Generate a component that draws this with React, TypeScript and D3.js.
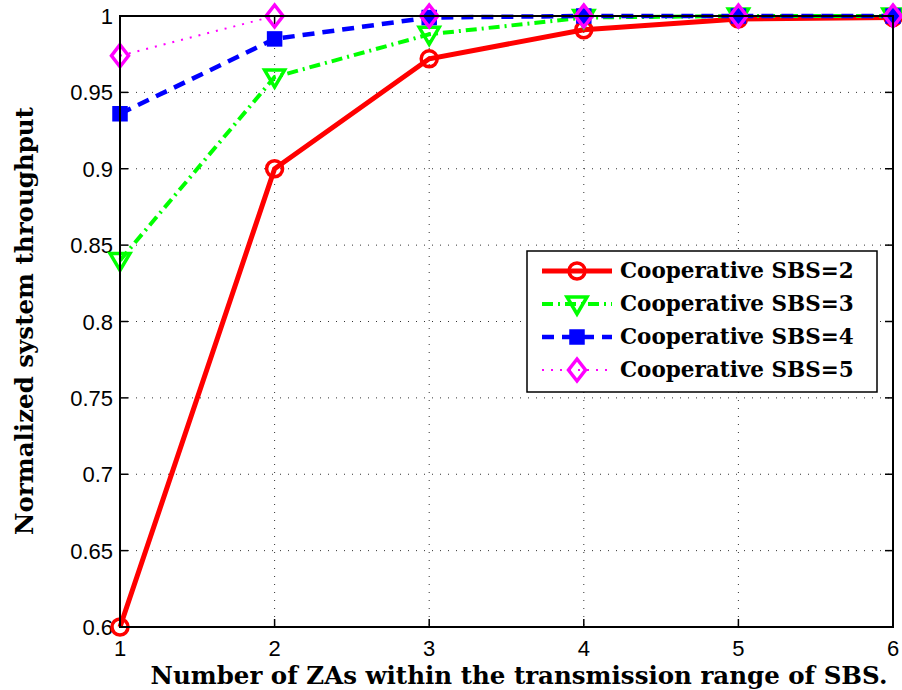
import React from "react";
import * as d3 from "d3";

const xValues = [1, 2, 3, 4, 5, 6];
const sbs2 = [0.6, 0.9, 0.972, 0.991, 0.998, 0.999];
const sbs3 = [0.84, 0.96, 0.988, 0.999, 1.0, 1.0];
const sbs4 = [0.936, 0.985, 0.999, 1.0, 1.0, 1.0];
const sbs5 = [0.974, 1.0, 1.0, 1.0, 1.0, 1.0];
const seriesNames = ["Cooperative SBS=2", "Cooperative SBS=3", "Cooperative SBS=4", "Cooperative SBS=5"];
const xTicks = [1, 2, 3, 4, 5, 6];
const yTicks = [0.6, 0.65, 0.7, 0.75, 0.8, 0.85, 0.9, 0.95, 1];
const xLabel = "Number of ZAs within the transmission range of SBS.";
const yLabel = "Normalized system throughput";

const W = 902, H = 690;
const L = 120, R = 893, T = 16, B = 627;

type Style = { color: string; dash: string; width: number; marker: string };
const styles: Style[] = [
  { color: "#ff0000", dash: "", width: 5, marker: "circle" },
  { color: "#00ff00", dash: "11 5 2 5", width: 4, marker: "triangle" },
  { color: "#0000ff", dash: "12 8", width: 4.5, marker: "square" },
  { color: "#ff00ff", dash: "2 7", width: 2, marker: "diamond" },
];

function Marker({ kind, x, y, color }: { kind: string; x: number; y: number; color: string }) {
  const sw = 3.5;
  if (kind === "circle") return <circle cx={x} cy={y} r={8} fill="none" stroke={color} strokeWidth={sw} />;
  if (kind === "triangle")
    return <path d={`M${x - 10},${y - 7} L${x + 10},${y - 7} L${x},${y + 10} Z`} fill="none" stroke={color} strokeWidth={sw} strokeLinejoin="miter" />;
  if (kind === "square") return <rect x={x - 6} y={y - 6} width={12} height={12} fill={color} stroke={color} strokeWidth={sw} />;
  return <path d={`M${x},${y - 11} L${x + 8.5},${y} L${x},${y + 11} L${x - 8.5},${y} Z`} fill="none" stroke={color} strokeWidth={sw} />;
}

export default function App() {
  const x = d3.scaleLinear().domain([1, 6]).range([L, R]);
  const y = d3.scaleLinear().domain([0.6, 1]).range([B, T]);
  const data = [sbs2, sbs3, sbs4, sbs5];
  const line = d3.line<number>().x((_, i) => x(xValues[i])).y((d) => y(d));
  const tickFont = "'Liberation Sans', Arial, sans-serif";
  const labelFont = "'DejaVu Serif', 'Liberation Serif', serif";
  const legX = 527, legY = 251, legW = 350, legH = 141;
  const legRows = [271, 304, 337, 370];
  return (
    <svg width={W} height={H} style={{ display: "block", position: "absolute", left: 0, top: 0, background: "#fff" }}>
      <rect width={W} height={H} fill="#fff" />
      {/* grid */}
      {xTicks.slice(1, -1).map((t) => (
        <line key={"gx" + t} x1={x(t)} x2={x(t)} y1={T} y2={B} stroke="#333" strokeWidth={1} strokeDasharray="1 7" />
      ))}
      {yTicks.slice(1, -1).map((t) => (
        <line key={"gy" + t} x1={L} x2={R} y1={y(t)} y2={y(t)} stroke="#333" strokeWidth={1} strokeDasharray="1 7" />
      ))}
      {/* ticks */}
      {xTicks.map((t) => (
        <g key={"tx" + t}>
          <line x1={x(t)} x2={x(t)} y1={B} y2={B - 8} stroke="#000" strokeWidth={1.5} />
          <line x1={x(t)} x2={x(t)} y1={T} y2={T + 8} stroke="#000" strokeWidth={1.5} />
          <text x={x(t)} y={B + 29} textAnchor="middle" fontFamily={tickFont} fontSize={22} fill="#000">{t}</text>
        </g>
      ))}
      {yTicks.map((t) => (
        <g key={"ty" + t}>
          <line x1={L} x2={L + 8} y1={y(t)} y2={y(t)} stroke="#000" strokeWidth={1.5} />
          <line x1={R} x2={R - 8} y1={y(t)} y2={y(t)} stroke="#000" strokeWidth={1.5} />
          <text x={L - 7} y={y(t) + 8} textAnchor="end" fontFamily={tickFont} fontSize={22} fill="#000">{String(t)}</text>
        </g>
      ))}
      {/* series */}
      {data.map((d, i) => (
        <path key={"s" + i} d={line(d) || ""} fill="none" stroke={styles[i].color} strokeWidth={styles[i].width} strokeDasharray={styles[i].dash} />
      ))}
      {data.map((d, i) =>
        d.map((v, j) => <Marker key={`m${i}-${j}`} kind={styles[i].marker} x={x(xValues[j])} y={y(v)} color={styles[i].color} />)
      )}
      {/* frame */}
      <rect x={L} y={T} width={R - L} height={B - T} fill="none" stroke="#000" strokeWidth={2} />
      {/* axis labels */}
      <text x={519} y={684} textAnchor="middle" fontFamily={labelFont} fontWeight="bold" fontSize={24.5} fill="#000">{xLabel}</text>
      <text transform={`translate(33, 321) rotate(-90)`} textAnchor="middle" fontFamily={labelFont} fontWeight="bold" fontSize={24.5} fill="#000">{yLabel}</text>
      {/* legend */}
      <rect x={legX} y={legY} width={legW} height={legH} fill="#fff" stroke="#000" strokeWidth={1.5} />
      {seriesNames.map((n, i) => (
        <g key={"l" + i}>
          <line x1={542} x2={612} y1={legRows[i]} y2={legRows[i]} stroke={styles[i].color} strokeWidth={styles[i].width} strokeDasharray={styles[i].dash} />
          <Marker kind={styles[i].marker} x={577} y={legRows[i]} color={styles[i].color} />
          <text x={620} y={legRows[i] + 7} fontFamily={labelFont} fontWeight="bold" fontSize={21.5} fill="#000">{n}</text>
        </g>
      ))}
    </svg>
  );
}
